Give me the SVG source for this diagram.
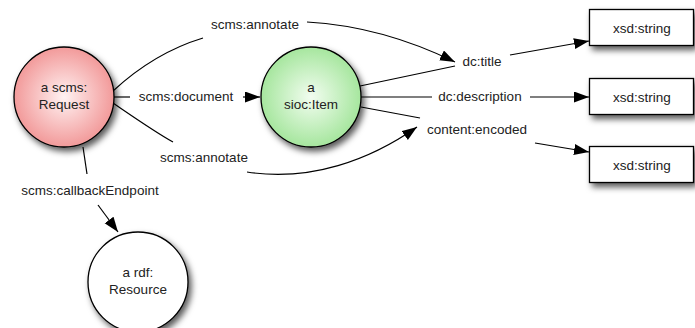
<svg xmlns="http://www.w3.org/2000/svg" width="695" height="328" viewBox="0 0 695 328">
<style>
text{font-family:"Liberation Sans",Arial,sans-serif;font-size:13.5px;fill:#222;text-anchor:middle}
.node{stroke:#000;stroke-width:1.3}
.edge{fill:none;stroke:#000;stroke-width:1.2}
.arr{marker-end:url(#ah)}
</style>
<defs>
<marker id="ah" markerUnits="userSpaceOnUse" markerWidth="16" markerHeight="12" refX="15" refY="5.5" orient="auto">
<path d="M0,0 L15,5.5 L0,11 z" fill="#000"/>
</marker>
<radialGradient id="gRed" cx="0.5" cy="0.5" r="0.5">
<stop offset="0" stop-color="#fff2f2"/>
<stop offset="1" stop-color="#f29a9a"/>
</radialGradient>
<radialGradient id="gGreen" cx="0.5" cy="0.5" r="0.5">
<stop offset="0" stop-color="#f2fdf0"/>
<stop offset="1" stop-color="#a6e69e"/>
</radialGradient>
<radialGradient id="gWhite" cx="0.5" cy="0.5" r="0.5">
<stop offset="0" stop-color="#ffffff"/>
<stop offset="1" stop-color="#ffffff"/>
</radialGradient>
<filter id="sh" x="-30%" y="-30%" width="170%" height="170%">
<feDropShadow dx="3" dy="4" stdDeviation="3" flood-color="#000" flood-opacity="0.65"/>
</filter>
</defs>

<g id="connectors">
<path class="edge" d="M113,91 C140,66 170,48 203,38"/>
<path class="edge arr" d="M307,22 C360,25 410,40 455,62"/>
<path class="edge" d="M113,97 L130,97"/>
<path class="edge arr" d="M243,97 L260,97"/>
<path class="edge" d="M113,103 C135,118 155,132 173,142"/>
<path class="edge arr" d="M247,172 C310,182 370,160 417,127"/>
<path class="edge" d="M360,86 L455,66"/>
<path class="edge arr" d="M510,55 L589,41"/>
<path class="edge" d="M361,97 L432,97"/>
<path class="edge arr" d="M530,97 L589,97"/>
<path class="edge" d="M361,107 L420,118"/>
<path class="edge arr" d="M535,143 L589,152"/>
<path class="edge" d="M83,147 L87,174"/>
<path class="edge arr" d="M98,205 L118,232"/>
<text x="255" y="29">scms:annotate</text>
<text x="186" y="101">scms:document</text>
<text x="204" y="162">scms:annotate</text>
<text x="90" y="195">scms:callbackEndpoint</text>
<text x="482" y="66">dc:title</text>
<text x="480" y="101">dc:description</text>
<text x="477" y="134">content:encoded</text>
</g>

<g id="request">
<circle class="node" cx="64" cy="97" r="50" fill="url(#gRed)" filter="url(#sh)"/>
<text x="64" y="92">a scms:</text>
<text x="64" y="109">Request</text>
</g>

<g id="item">
<circle class="node" cx="311" cy="97" r="50" fill="url(#gGreen)" filter="url(#sh)"/>
<text x="311" y="92">a</text>
<text x="311" y="109">sioc:Item</text>
</g>

<g id="resource">
<circle class="node" cx="138" cy="282" r="50" fill="url(#gWhite)" filter="url(#sh)"/>
<text x="138" y="277">a rdf:</text>
<text x="138" y="294">Resource</text>
</g>

<g id="str1">
<rect class="node" x="589.5" y="9.5" width="104" height="36" fill="#fff" filter="url(#sh)"/>
<text x="642" y="33">xsd:string</text>
</g>
<g id="str2">
<rect class="node" x="589.5" y="78.5" width="104" height="36" fill="#fff" filter="url(#sh)"/>
<text x="642" y="102">xsd:string</text>
</g>
<g id="str3">
<rect class="node" x="589.5" y="146.5" width="104" height="36" fill="#fff" filter="url(#sh)"/>
<text x="642" y="170">xsd:string</text>
</g>
</svg>
